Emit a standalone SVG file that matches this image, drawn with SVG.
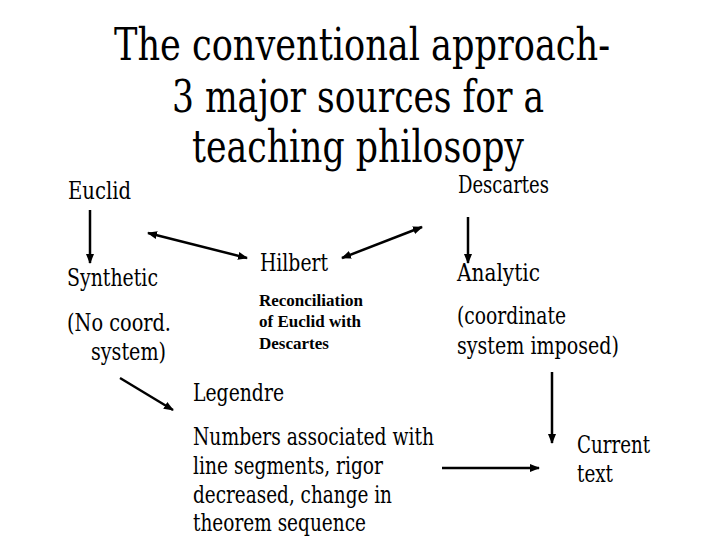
<svg xmlns="http://www.w3.org/2000/svg" width="720" height="540" viewBox="0 0 720 540">
<style>
text{font-family:'DejaVu Serif Condensed','DejaVu Serif',serif;fill:#000}
.t{font-size:44px;text-anchor:middle}
.n{font-size:24px}
.b{font-size:17px;font-weight:bold;font-family:'Liberation Serif',serif}
.c{stroke:#000;stroke-width:2.5;fill:none}
</style>
<defs>
<marker id="ah" viewBox="0 0 10 10" refX="9" refY="5" markerWidth="4" markerHeight="4" orient="auto-start-reverse" markerUnits="strokeWidth">
<path d="M0,1 L10,5 L0,9 Z" fill="#000"/>
</marker>
</defs>
<rect width="720" height="540" fill="#fff"/>
<g id="title">
<text class="t" x="362" y="60" textLength="496" lengthAdjust="spacingAndGlyphs">The conventional approach-</text>
<text class="t" x="358" y="112" textLength="372" lengthAdjust="spacingAndGlyphs">3 major sources for a</text>
<text class="t" x="358" y="162" textLength="332" lengthAdjust="spacingAndGlyphs">teaching philosopy</text>
</g>
<g id="euclid"><text class="n" x="68" y="199" textLength="63" lengthAdjust="spacingAndGlyphs">Euclid</text></g>
<g id="descartes"><text class="n" x="458" y="193" textLength="91" lengthAdjust="spacingAndGlyphs">Descartes</text></g>
<g id="synthetic"><text class="n" x="67" y="286" textLength="91" lengthAdjust="spacingAndGlyphs">Synthetic</text>
<text class="n" x="67" y="331" textLength="104" lengthAdjust="spacingAndGlyphs">(No coord.</text>
<text class="n" x="91" y="360" textLength="75" lengthAdjust="spacingAndGlyphs">system)</text></g>
<g id="hilbert"><text class="n" x="260" y="271" textLength="68" lengthAdjust="spacingAndGlyphs">Hilbert</text>
<text class="b" x="259" y="306">Reconciliation</text>
<text class="b" x="259" y="327">of Euclid with</text>
<text class="b" x="259" y="349">Descartes</text></g>
<g id="analytic"><text class="n" x="457" y="281" textLength="83" lengthAdjust="spacingAndGlyphs">Analytic</text>
<text class="n" x="457" y="324" textLength="109" lengthAdjust="spacingAndGlyphs">(coordinate</text>
<text class="n" x="457" y="354" textLength="162" lengthAdjust="spacingAndGlyphs">system imposed)</text></g>
<g id="legendre"><text class="n" x="193" y="401" textLength="91" lengthAdjust="spacingAndGlyphs">Legendre</text>
<text class="n" x="193" y="445" textLength="241" lengthAdjust="spacingAndGlyphs">Numbers associated with</text>
<text class="n" x="193" y="474" textLength="190" lengthAdjust="spacingAndGlyphs">line segments, rigor</text>
<text class="n" x="193" y="503" textLength="199" lengthAdjust="spacingAndGlyphs">decreased, change in</text>
<text class="n" x="193" y="531" textLength="173" lengthAdjust="spacingAndGlyphs">theorem sequence</text></g>
<g id="current"><text class="n" x="577" y="453" textLength="73" lengthAdjust="spacingAndGlyphs">Current</text>
<text class="n" x="577" y="482" textLength="36" lengthAdjust="spacingAndGlyphs">text</text></g>
<g id="connectors">
<line class="c" x1="90" y1="210" x2="90" y2="263" marker-end="url(#ah)"/>
<line class="c" x1="468" y1="217" x2="468" y2="263" marker-end="url(#ah)"/>
<line class="c" x1="148" y1="233" x2="247" y2="258" marker-start="url(#ah)" marker-end="url(#ah)"/>
<line class="c" x1="342" y1="258" x2="422" y2="227" marker-start="url(#ah)" marker-end="url(#ah)"/>
<line class="c" x1="120" y1="378" x2="173" y2="410" marker-end="url(#ah)"/>
<line class="c" x1="552" y1="372" x2="552" y2="443" marker-end="url(#ah)"/>
<line class="c" x1="442" y1="468" x2="539" y2="468" marker-end="url(#ah)"/>
</g>
</svg>
